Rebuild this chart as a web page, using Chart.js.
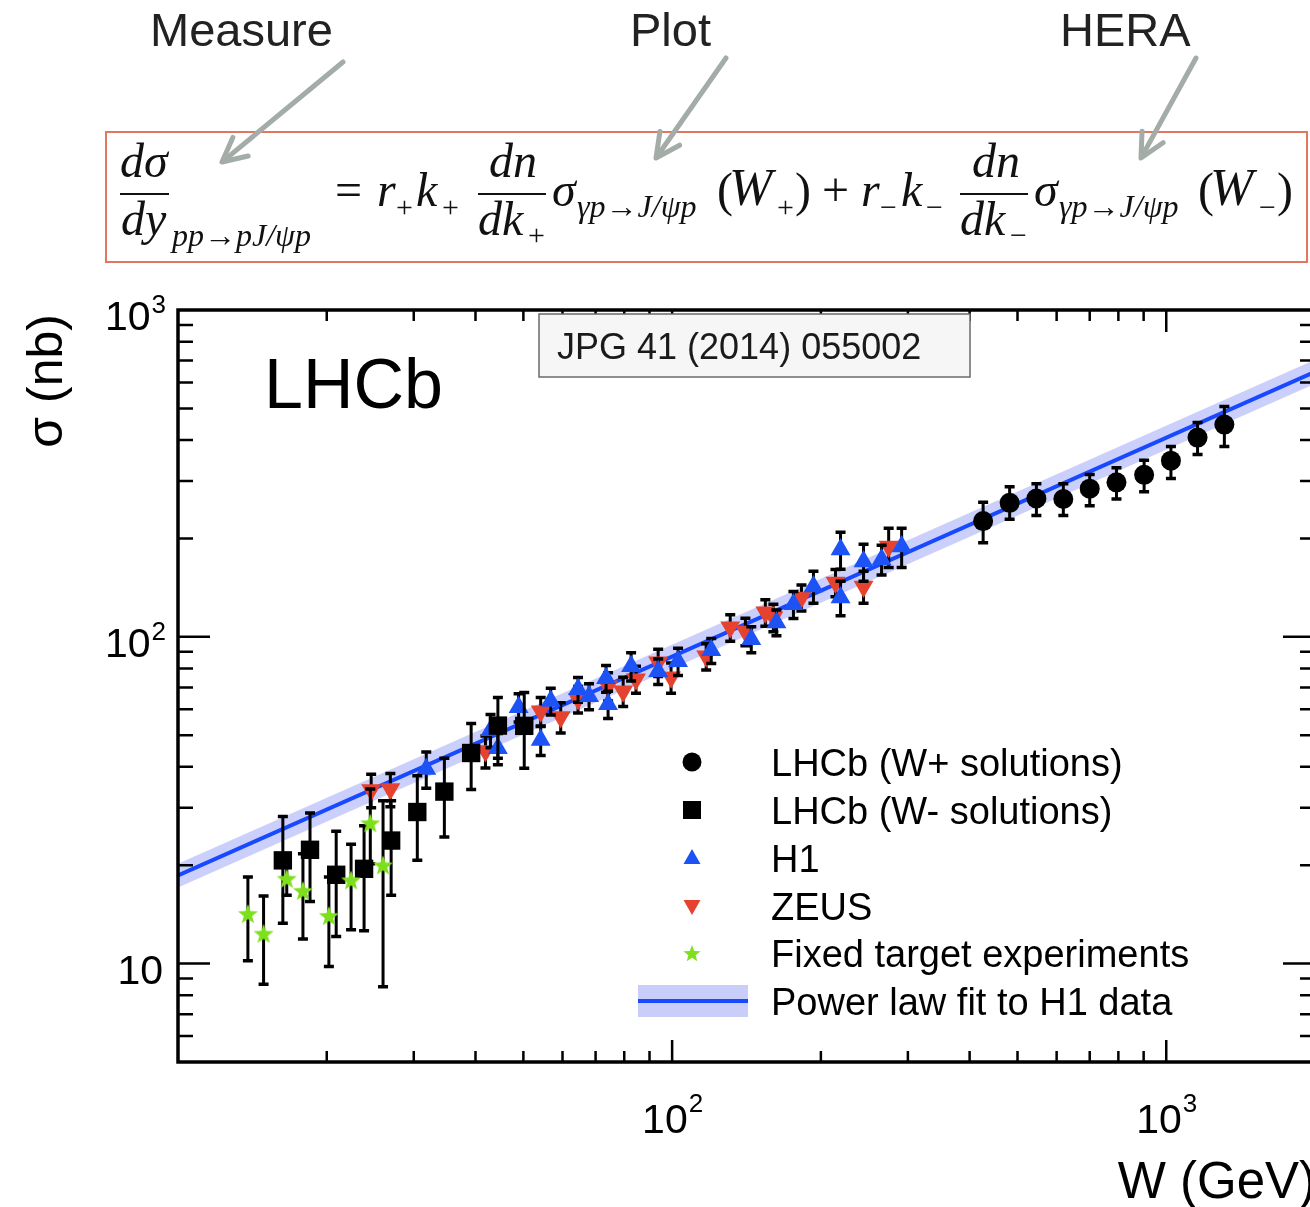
<!DOCTYPE html>
<html>
<head>
<meta charset="utf-8">
<script src="https://cdn.jsdelivr.net/npm/chart.js@4.4.0/dist/chart.umd.min.js"></script>
<style>
  html, body { margin: 0; padding: 0; background: #fff; }
  body { width: 1310px; height: 1207px; overflow: hidden; position: relative; font-family: "Liberation Sans", Arial, sans-serif; }
  #plot { position: absolute; left: 0; top: 0; }
  .hdr { position: absolute; font-size: 47px; line-height: 1; color: #222; white-space: nowrap; }
  .fx { position: absolute; font-family: "Liberation Serif", "Times New Roman", serif; font-style: italic; color: #111; line-height: 1; white-space: nowrap; }
  .bar { position: absolute; height: 2px; background: #111; }
  #box { position: absolute; left: 105px; top: 131px; width: 1199px; height: 128px; border: 2px solid #e0785f; }
</style>
</head>
<body>
<canvas id="plot" width="1330" height="1207"></canvas>
<div id="box"></div>
<svg id="arrows" width="1310" height="280" style="position:absolute;left:0;top:0"></svg>
<script>
// axis ranges and tick labels
const xMin = 10, xMax = 2000, yMin = 5, yMax = 1000;
const xTickLabels = [100, 1000];
const yTickLabels = [10, 100, 1000];

// power law fit to H1 (line + band)
const fitW = [10, 2000];
const fitMid = [18.6, 647];
const fitLo = [17.1, 595];
const fitHi = [20.2, 704];

// LHCb W+ solutions
const lhcbPlusW = [426, 482, 546, 619, 700, 793, 902, 1022, 1157, 1311];
const lhcbPlusSigma = [226, 257, 265, 264, 284, 297, 313, 346, 407, 446];
const lhcbPlusLo = [194, 229, 235, 235, 252, 264, 278, 305, 361, 382];
const lhcbPlusHi = [258, 288, 294, 294, 314, 329, 347, 382, 453, 507];

// LHCb W- solutions
const lhcbMinusW = [16.3, 18.5, 20.9, 23.8, 27.0, 30.5, 34.6, 39.2, 44.4, 50.2];
const lhcbMinusSigma = [20.7, 22.3, 18.7, 19.5, 23.8, 29.1, 33.6, 44.1, 53.5, 53.4];
const lhcbMinusLo = [13.3, 15.5, 12.1, 12.6, 16.2, 20.7, 24.4, 34.1, 42.5, 39.6];
const lhcbMinusHi = [28.2, 28.9, 25.4, 26.4, 31.5, 37.6, 42.5, 54.3, 65.2, 67.5];

// H1
const h1W = [31.8, 42.9, 44.4, 48.9, 54.2, 56.8, 64.5, 67.9, 73.5, 74.2, 82.6, 93.7, 102.8, 120, 144.6, 162.6, 176, 193.2, 219.2, 219.2, 244, 265.4, 291.4];
const h1Sigma = [39.4, 51.8, 45.6, 60.9, 48.3, 63.6, 69.1, 65.8, 74.7, 62.2, 81.3, 78.5, 84.2, 90.9, 98.3, 110.7, 125.7, 142.6, 132, 185, 170, 172.5, 189];
const h1Err = [5, 6, 5, 6, 5, 6, 6, 6, 7, 6, 8, 7, 8, 8, 9, 10, 12, 16, 16, 24, 22, 18, 26];

// ZEUS
const zeusW = [24.6, 26.9, 41.9, 54.2, 59.5, 64.5, 74.2, 79.6, 84.5, 93.7, 99.5, 117.2, 131.1, 140.7, 154.4, 160.3, 182.7, 214.1, 244, 274.3];
const zeusSigma = [34.0, 34.2, 44.7, 59.2, 56.8, 64.5, 70.6, 68.2, 74.2, 83.6, 75.2, 87.2, 106.9, 103.9, 118.8, 114.7, 132, 146.7, 142.6, 189];
const zeusErr = [4, 4, 5, 6, 6, 6, 7, 7, 7, 8, 8, 8, 10, 10, 11, 11, 12, 14, 16, 26];

// fixed target experiments
const fixedW = [13.85, 14.9, 16.6, 17.9, 20.2, 22.4, 24.5, 26.0];
const fixedSigma = [14.2, 12.35, 18.2, 16.7, 14.0, 18.0, 26.9, 20.0];
const fixedLo = [10.2, 8.65, 16.2, 11.9, 9.8, 12.7, 20.2, 8.5];
const fixedHi = [18.4, 16.1, 20.6, 21.7, 18.4, 23.2, 34.2, 31.5];

const legendLabels = ['LHCb (W+ solutions)', 'LHCb (W- solutions)', 'H1', 'ZEUS', 'Fixed target experiments', 'Power law fit to H1 data'];

const blue = '#1d52f5', red = '#e5432f', green = '#7ee01c', lineBlue = '#1848ff', bandBlue = 'rgba(150,160,248,0.5)';

function pts(xs, ys) { return xs.map((x, i) => ({ x: x, y: ys[i] })); }

function starPath(c, cx, cy, ro, ri) {
    c.beginPath();
    for (let k = 0; k < 10; k++) {
        const r = k % 2 ? ri : ro;
        const a = -Math.PI / 2 + k * Math.PI / 5;
        c.lineTo(cx + r * Math.cos(a), cy + r * Math.sin(a));
    }
    c.closePath();
}

const starImg = document.createElement('canvas');
starImg.width = 24; starImg.height = 24;
(function() {
    const s = starImg.getContext('2d');
    s.fillStyle = green;
    starPath(s, 12, 12.8, 10.5, 4.4);
    s.fill();
})();

// error bars, drawn just before each dataset's markers
const errorBars = {
    id: 'errorBars',
    beforeDatasetDraw(chart, args) {
        const ds = chart.data.datasets[args.index];
        if (!ds.errLo) return;
        const c = chart.ctx, xs = chart.scales.x, ys = chart.scales.y;
        c.save();
        c.strokeStyle = '#000';
        c.beginPath();
        c.lineWidth = 3;
        ds.data.forEach((p, i) => {
            const px = xs.getPixelForValue(p.x);
            c.moveTo(px, ys.getPixelForValue(ds.errLo[i]));
            c.lineTo(px, ys.getPixelForValue(ds.errHi[i]));
        });
        c.stroke();
        c.beginPath();
        c.lineWidth = 3.5;
        ds.data.forEach((p, i) => {
            const px = xs.getPixelForValue(p.x);
            const y1 = ys.getPixelForValue(ds.errLo[i]);
            const y2 = ys.getPixelForValue(ds.errHi[i]);
            c.moveTo(px - 5, y1); c.lineTo(px + 5, y1);
            c.moveTo(px - 5, y2); c.lineTo(px + 5, y2);
        });
        c.stroke();
        c.restore();
    }
};

// ROOT style frame, inward ticks, labels, legend, captions
const decor = {
    id: 'decor',
    afterDraw(chart) {
        const c = chart.ctx, a = chart.chartArea, xs = chart.scales.x, ys = chart.scales.y;
        c.save();
        c.strokeStyle = '#000';
        c.lineWidth = 2.5;
        c.beginPath();
        for (let e = 1; e <= 3; e++) {
            for (let m = 1; m <= 9; m++) {
                const v = m * Math.pow(10, e);
                if (v <= xMin || v >= xMax) continue;
                const px = xs.getPixelForValue(v), len = m === 1 ? 22 : 11;
                c.moveTo(px, a.bottom); c.lineTo(px, a.bottom - len);
                c.moveTo(px, a.top); c.lineTo(px, a.top + len);
            }
        }
        for (let e = 0; e <= 2; e++) {
            for (let m = 1; m <= 9; m++) {
                const v = m * Math.pow(10, e);
                if (v <= yMin || v >= yMax) continue;
                const py = ys.getPixelForValue(v), len = m === 1 ? 32 : 15;
                c.moveTo(a.left, py); c.lineTo(a.left + len, py);
                c.moveTo(a.right, py); c.lineTo(a.right - len, py);
            }
        }
        c.stroke();
        c.lineWidth = 3.5;
        c.strokeRect(a.left, a.top, a.right - a.left, a.bottom - a.top);

        // tick labels
        c.fillStyle = '#000';
        c.textBaseline = 'alphabetic';
        const big = '41px "Liberation Sans", Arial', small = '26px "Liberation Sans", Arial';
        yTickLabels.forEach(v => {
            const ex = Math.round(Math.log10(v)), py = ys.getPixelForValue(v);
            if (ex === 1) {
                c.font = big; c.textAlign = 'right';
                c.fillText('10', 163, py + 20);
            } else {
                c.font = small;
                const ws = c.measureText(String(ex)).width;
                c.textAlign = 'left';
                c.fillText(String(ex), 166 - ws, py + 3);
                c.font = big; c.textAlign = 'right';
                c.fillText('10', 165 - ws, py + 20);
            }
        });
        xTickLabels.forEach(v => {
            const ex = Math.round(Math.log10(v)), px = xs.getPixelForValue(v);
            c.font = big;
            const wd = c.measureText('10').width;
            c.font = small;
            const ws = c.measureText(String(ex)).width;
            const x0 = px - (wd + ws) / 2;
            c.textAlign = 'left';
            c.font = big; c.fillText('10', x0, 1133);
            c.font = small; c.fillText(String(ex), x0 + wd + 1, 1112);
        });

        // axis titles
        c.font = '51px "Liberation Sans", Arial';
        c.textAlign = 'right';
        c.fillText('W (GeV)', 1316, 1198);
        c.save();
        c.translate(62, 314);
        c.rotate(-Math.PI / 2);
        c.font = '50px "Liberation Sans", Arial';
        c.fillText('σ (nb)', 0, 0);
        c.restore();

        // LHCb tag
        c.font = '70px "Liberation Sans", Arial';
        c.textAlign = 'left';
        c.fillText('LHCb', 264, 408);

        // reference box
        c.fillStyle = '#f6f6f6';
        c.fillRect(539, 314, 431, 63);
        c.strokeStyle = '#6a6a6a';
        c.lineWidth = 1.5;
        c.strokeRect(539, 314, 431, 63);
        c.fillStyle = '#1a1a1a';
        c.font = '36px "Liberation Sans", Arial';
        c.fillText('JPG 41 (2014) 055002', 557, 359);

        // legend
        const mx = 692, rows = [762, 810, 858, 906, 953, 1001];
        c.fillStyle = '#000';
        c.beginPath(); c.arc(mx, rows[0], 9.5, 0, 2 * Math.PI); c.fill();
        c.fillRect(mx - 9, rows[1] - 9, 18, 18);
        c.fillStyle = blue;
        c.beginPath(); c.moveTo(mx, rows[2] - 9); c.lineTo(mx + 8.5, rows[2] + 6); c.lineTo(mx - 8.5, rows[2] + 6); c.closePath(); c.fill();
        c.fillStyle = red;
        c.beginPath(); c.moveTo(mx, rows[3] + 9); c.lineTo(mx + 8.5, rows[3] - 6); c.lineTo(mx - 8.5, rows[3] - 6); c.closePath(); c.fill();
        c.fillStyle = green;
        starPath(c, mx, rows[4] + 1, 9, 3.8); c.fill();
        c.fillStyle = 'rgb(200,205,250)';
        c.fillRect(638, rows[5] - 16, 110, 32);
        c.strokeStyle = lineBlue; c.lineWidth = 4;
        c.beginPath(); c.moveTo(638, rows[5]); c.lineTo(748, rows[5]); c.stroke();
        c.fillStyle = '#000';
        c.font = '38px "Liberation Sans", Arial';
        legendLabels.forEach((t, i) => c.fillText(t, 771, rows[i] + 14));
        c.restore();
    }
};

new Chart(document.getElementById('plot'), {
    type: 'scatter',
    data: {
        datasets: [
            { label: 'fitHi', data: pts(fitW, fitHi), showLine: true, fill: '+1', backgroundColor: bandBlue, borderWidth: 0, pointRadius: 0, order: 100 },
            { label: 'fitLo', data: pts(fitW, fitLo), showLine: true, fill: false, borderWidth: 0, pointRadius: 0, order: 99 },
            { label: 'fit', data: pts(fitW, fitMid), showLine: true, fill: false, borderColor: lineBlue, borderWidth: 4, pointRadius: 0, order: 90 },
            { label: 'ZEUS', data: pts(zeusW, zeusSigma), errLo: zeusSigma.map((s, i) => s - zeusErr[i]), errHi: zeusSigma.map((s, i) => s + zeusErr[i]),
              pointStyle: 'triangle', rotation: 180, pointRadius: 11.5, backgroundColor: red, borderWidth: 0, order: 50 },
            { label: 'H1', data: pts(h1W, h1Sigma), errLo: h1Sigma.map((s, i) => s - h1Err[i]), errHi: h1Sigma.map((s, i) => s + h1Err[i]),
              pointStyle: 'triangle', pointRadius: 11.5, backgroundColor: blue, borderWidth: 0, order: 40 },
            { label: 'LHCb W-', data: pts(lhcbMinusW, lhcbMinusSigma), errLo: lhcbMinusLo, errHi: lhcbMinusHi,
              pointStyle: 'rect', pointRadius: 13, backgroundColor: '#000', borderWidth: 0, order: 30 },
            { label: 'LHCb W+', data: pts(lhcbPlusW, lhcbPlusSigma), errLo: lhcbPlusLo, errHi: lhcbPlusHi,
              pointStyle: 'circle', pointRadius: 10, backgroundColor: '#000', borderWidth: 0, order: 20 },
            { label: 'Fixed target', data: pts(fixedW, fixedSigma), errLo: fixedLo, errHi: fixedHi,
              pointStyle: starImg, pointRadius: 10, order: 10 }
        ]
    },
    options: {
        responsive: false,
        animation: false,
        events: [],
        layout: { padding: { left: 0, right: 15, top: 310, bottom: 0 } },
        plugins: {
            legend: { display: false },
            tooltip: { enabled: false }
        },
        scales: {
            x: {
                type: 'logarithmic', min: xMin, max: xMax,
                grid: { display: false }, border: { display: false },
                ticks: { display: false },
                afterFit: s => { s.height = 145; }
            },
            y: {
                type: 'logarithmic', min: yMin, max: yMax,
                grid: { display: false }, border: { display: false },
                ticks: { display: false },
                afterFit: s => { s.width = 178; }
            }
        }
    },
    plugins: [errorBars, decor]
});

// header captions with arrows
const headers = [['Measure', 150], ['Plot', 630], ['HERA', 1060]];
headers.forEach(([t, x]) => {
    const d = document.createElement('div');
    d.className = 'hdr';
    d.textContent = t;
    d.style.left = x + 'px';
    d.style.top = (46 - 0.8465 * 47) + 'px';
    document.body.appendChild(d);
});

const svg = document.getElementById('arrows');
const NS = 'http://www.w3.org/2000/svg';
[[343, 62, 222, 162], [726, 58, 656, 158], [1196, 58, 1141, 158]].forEach(([x1, y1, x2, y2]) => {
    const L = Math.hypot(x2 - x1, y2 - y1), dx = (x2 - x1) / L, dy = (y2 - y1) / L;
    const bx = x2 - 24 * dx, by = y2 - 24 * dy;
    const ln = document.createElementNS(NS, 'line');
    ln.setAttribute('x1', x1); ln.setAttribute('y1', y1);
    ln.setAttribute('x2', x2 - 3 * dx); ln.setAttribute('y2', y2 - 3 * dy);
    const hd = document.createElementNS(NS, 'polyline');
    hd.setAttribute('points', `${bx - 12 * dy},${by + 12 * dx} ${x2},${y2} ${bx + 12 * dy},${by - 12 * dx}`);
    [ln, hd].forEach(el => {
        el.setAttribute('stroke', '#a3aca7');
        el.setAttribute('stroke-width', '5');
        el.setAttribute('fill', 'none');
        el.setAttribute('stroke-linecap', 'round');
        el.setAttribute('stroke-linejoin', 'round');
        svg.appendChild(el);
    });
});

// formula pieces: text, left x, baseline, size, upright flag
const formulaParts = [
    ['dσ', 120, 177, 48], ['dy', 121, 235, 48], ['pp→pJ/ψp', 172, 246, 32],
    ['=', 335, 206, 48, 1],
    ['r', 377, 206, 48], ['+', 396, 217, 30, 1], ['k', 416, 206, 48], ['+', 442, 217, 30, 1],
    ['dn', 489, 177, 48], ['dk', 478, 235, 48], ['+', 528, 245, 30, 1],
    ['σ', 552, 206, 48], ['γp→J/ψp', 577, 217, 32],
    ['(', 717, 206, 48, 1], ['W', 729, 206, 52], ['+', 777, 217, 30, 1], [')', 795, 206, 48, 1],
    ['+', 822, 206, 48, 1],
    ['r', 861, 206, 48], ['−', 880, 217, 30, 1], ['k', 901, 206, 48], ['−', 926, 217, 30, 1],
    ['dn', 972, 177, 48], ['dk', 960, 235, 48], ['−', 1010, 245, 30, 1],
    ['σ', 1034, 206, 48], ['γp→J/ψp', 1059, 217, 32],
    ['(', 1198, 206, 48, 1], ['W', 1210, 206, 52], ['−', 1259, 217, 30, 1], [')', 1277, 206, 48, 1]
];
formulaParts.forEach(([t, x, base, size, up]) => {
    const d = document.createElement('div');
    d.className = 'fx';
    d.textContent = t;
    d.style.left = x + 'px';
    d.style.top = (base - 0.8375 * size) + 'px';
    d.style.fontSize = size + 'px';
    if (up) d.style.fontStyle = 'normal';
    document.body.appendChild(d);
});
[[120, 169], [478, 546], [960, 1028]].forEach(([x1, x2]) => {
    const b = document.createElement('div');
    b.className = 'bar';
    b.style.left = x1 + 'px';
    b.style.top = '193px';
    b.style.width = (x2 - x1) + 'px';
    document.body.appendChild(b);
});
</script>
</body>
</html>
